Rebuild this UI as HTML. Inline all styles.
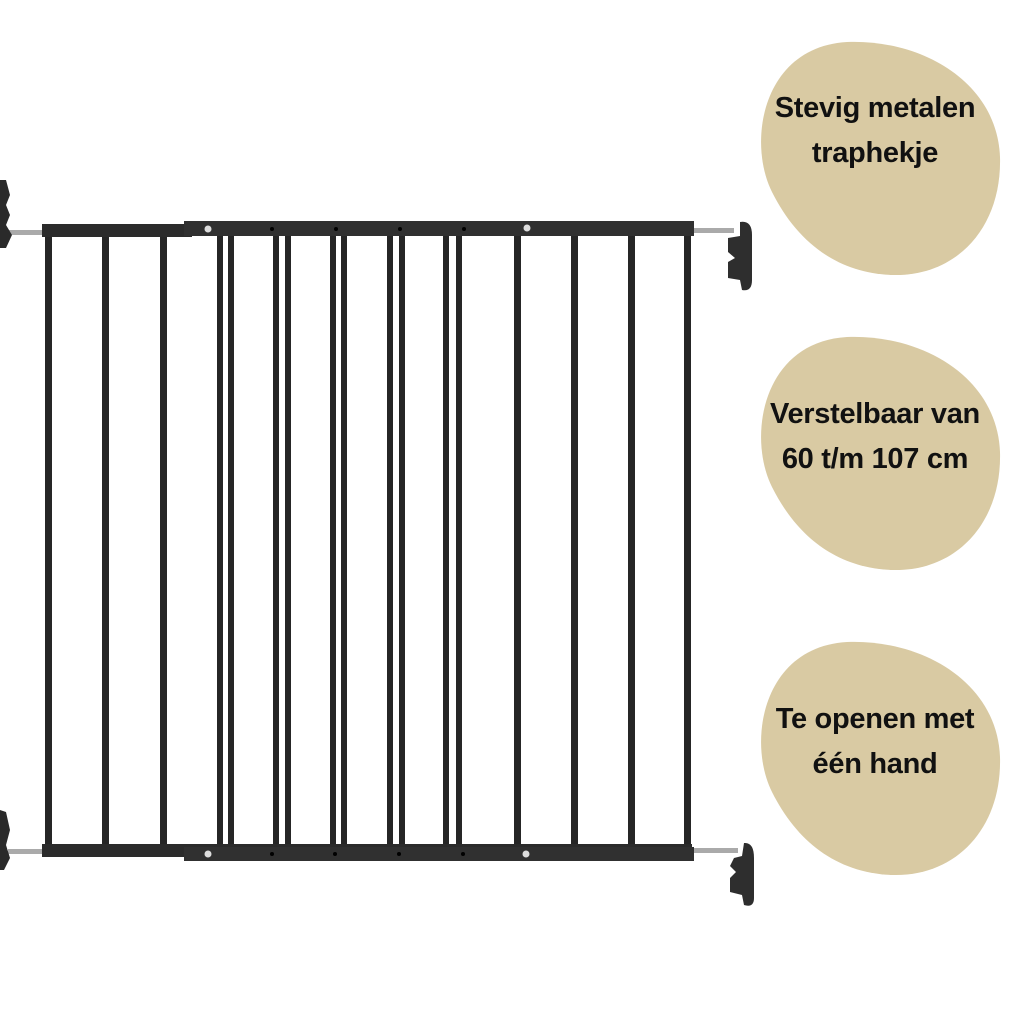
<!DOCTYPE html>
<html><head><style>
html,body{margin:0;padding:0;background:#fff;}
body{width:1020px;height:1020px;position:relative;overflow:hidden;font-family:"Liberation Sans",sans-serif;}
.t{position:absolute;left:745px;width:260px;text-align:center;font-weight:bold;font-size:29px;line-height:45px;color:#111;letter-spacing:-0.3px;}
</style></head><body>
<svg width="1020" height="1020" style="position:absolute;left:0;top:0">
<defs>
<path id="blob" d="M95 0 C170 -3 245 40 248 115 C250 185 205 235 140 233 C85 231 45 200 20 150 C-5 100 10 5 95 0 Z" fill="#d9caa3"/>
</defs>
<use href="#blob" x="752" y="42"/>
<use href="#blob" x="752" y="337"/>
<use href="#blob" x="752" y="642"/>
<rect x="8" y="230" width="36" height="5" fill="#aaa"/>
<rect x="692" y="228" width="42" height="5" fill="#aaa"/>
<rect x="8" y="849" width="36" height="5" fill="#aaa"/>
<rect x="692" y="848" width="46" height="5" fill="#aaa"/>
<path d="M0 180 L6 180 L10 195 L6 205 L10 215 L6 225 L12 235 L6 248 L0 248 Z" fill="#2a2a2a"/>
<path d="M0 810 L6 812 L10 830 L6 845 L10 858 L4 870 L0 870 Z" fill="#2a2a2a"/>
<path d="M740 222 Q752 220 752 235 L752 280 Q752 292 742 290 L740 280 L728 278 L728 262 L735 258 L728 252 L728 238 L740 236 Z" fill="#2e2e2e"/>
<path d="M744 843 Q754 842 754 858 L754 898 Q754 908 744 905 L742 895 L730 892 L730 878 L736 872 L730 866 L734 858 L742 856 Z" fill="#2e2e2e"/>
<g fill="#262626">
<rect x="45" y="236" width="7" height="612"/>
<rect x="102" y="236" width="7" height="612"/>
<rect x="160" y="236" width="7" height="612"/>
<rect x="217" y="236" width="6" height="612"/>
<rect x="228" y="236" width="6" height="612"/>
<rect x="273" y="236" width="6" height="612"/>
<rect x="285" y="236" width="6" height="612"/>
<rect x="330" y="236" width="6" height="612"/>
<rect x="341" y="236" width="6" height="612"/>
<rect x="387" y="236" width="6" height="612"/>
<rect x="399" y="236" width="6" height="612"/>
<rect x="443" y="236" width="6" height="612"/>
<rect x="456" y="236" width="6" height="612"/>
<rect x="514" y="236" width="7" height="612"/>
<rect x="571" y="236" width="7" height="612"/>
<rect x="628" y="236" width="7" height="612"/>
<rect x="684" y="236" width="7" height="612"/>
</g>
<rect x="42" y="224" width="150" height="13" fill="#2b2b2b"/>
<rect x="184" y="221" width="510" height="15" fill="#303030"/>
<circle cx="208" cy="229" r="3.5" fill="#ddd"/>
<circle cx="527" cy="228" r="3.5" fill="#ddd"/>
<circle cx="272" cy="229" r="2" fill="#000"/>
<circle cx="336" cy="229" r="2" fill="#000"/>
<circle cx="400" cy="229" r="2" fill="#000"/>
<circle cx="464" cy="229" r="2" fill="#000"/>
<rect x="42" y="844" width="650" height="13" fill="#2b2b2b"/>
<rect x="184" y="847" width="510" height="14" fill="#303030"/>
<circle cx="208" cy="854" r="3.5" fill="#ddd"/>
<circle cx="526" cy="854" r="3.5" fill="#ddd"/>
<circle cx="272" cy="854" r="2" fill="#000"/>
<circle cx="335" cy="854" r="2" fill="#000"/>
<circle cx="399" cy="854" r="2" fill="#000"/>
<circle cx="463" cy="854" r="2" fill="#000"/>
</svg>
<div class="t" style="top:86px">Stevig metalen<br>traphekje</div>
<div class="t" style="top:392px">Verstelbaar van<br>60 t/m 107 cm</div>
<div class="t" style="top:697px">Te openen met<br>één hand</div>
</body></html>
